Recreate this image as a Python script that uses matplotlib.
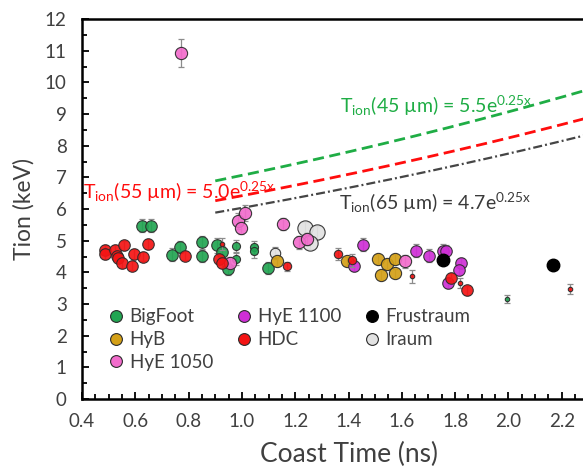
import numpy as np
import matplotlib
matplotlib.use("Agg")
import matplotlib.pyplot as plt
from matplotlib.lines import Line2D
from matplotlib.ticker import MultipleLocator, FormatStrFormatter

plt.rcParams['font.family'] = ['Lato', 'DejaVu Sans']
plt.rcParams['mathtext.fontset'] = 'custom'
plt.rcParams['mathtext.rm'] = 'Lato'
plt.rcParams['mathtext.it'] = 'Lato:italic'
plt.rcParams['mathtext.bf'] = 'Lato:bold'
plt.rcParams['lines.scale_dashes'] = False

# ---- campaign data: coast time (ns), ion temperature (keV), error (keV) ----
bigfoot_x = [0.626, 0.659, 0.737, 0.768, 0.849, 0.849, 0.905, 0.924, 0.947, 1.097]
bigfoot_y = [5.47, 5.47, 4.56, 4.80, 4.95, 4.52, 4.85, 4.64, 4.11, 4.14]
bigfoot_err = [0.2, 0.2, 0.2, 0.2, 0.2, 0.2, 0.25, 0.2, 0.2, 0.2]
bigfoot_mid_x = [0.977, 1.045, 1.045, 0.977]
bigfoot_mid_y = [4.82, 4.79, 4.66, 4.43]
bigfoot_mid_err = [0.2, 0.2, 0.2, 0.2]
bigfoot_tiny_x = [1.996]
bigfoot_tiny_y = [3.16]
bigfoot_tiny_err = [0.12]

iraum_x = [1.237, 1.281, 1.256]
iraum_y = [5.40, 5.26, 4.93]
iraum_err = [0.2, 0.2, 0.2]
iraum_mid_x = [1.124]
iraum_mid_y = [4.61]
iraum_mid_err = [0.2]

hyb_x = [1.133, 1.393, 1.512, 1.543, 1.574, 1.522, 1.574]
hyb_y = [4.35, 4.35, 4.42, 4.26, 4.42, 3.92, 3.97]
hyb_err = [0.15, 0.15, 0.15, 0.15, 0.15, 0.15, 0.15]

hye1050_x = [0.771, 0.984, 0.995, 1.012, 0.955, 1.214, 1.245, 1.153, 1.612]
hye1050_y = [10.92, 5.63, 5.40, 5.87, 4.29, 4.95, 5.05, 5.53, 4.35]
hye1050_err = [0.44, 0.25, 0.2, 0.25, 0.2, 0.2, 0.2, 0.2, 0.2]

hye1100_x = [1.456, 1.422, 1.653, 1.703, 1.753, 1.765, 1.822, 1.815, 1.775]
hye1100_y = [4.87, 4.19, 4.68, 4.53, 4.68, 4.66, 4.29, 4.06, 3.66]
hye1100_err = [0.2, 0.15, 0.2, 0.2, 0.2, 0.2, 0.15, 0.15, 0.15]

hdc_x = [0.486, 0.486, 0.524, 0.532, 0.536, 0.549, 0.558, 0.589, 0.596, 0.628,
         0.646, 0.786, 0.915, 0.926, 1.783, 1.843]
hdc_y = [4.72, 4.58, 4.72, 4.53, 4.45, 4.29, 4.85, 4.21, 4.58, 4.50,
         4.90, 4.53, 4.42, 4.29, 3.82, 3.43]
hdc_err = [0.15] * 16
hdc_mid_x = [1.359, 1.414, 1.168]
hdc_mid_y = [4.58, 4.38, 4.19]
hdc_mid_err = [0.2, 0.2, 0.15]
hdc_tiny_x = [0.924, 1.637, 1.818, 2.231]
hdc_tiny_y = [4.90, 3.87, 3.66, 3.48]
hdc_tiny_err = [0.2, 0.2, 0.15, 0.15]

frustraum_x = [1.753, 2.166]
frustraum_y = [4.40, 4.24]

# exponential scaling fits: T = a * exp(b * t)
fit_a_45 = 5.5
fit_a_55 = 5.0
fit_a_65 = 4.7
fit_b = 0.25
fit_start = 0.9

x_ticks = [0.4, 0.6, 0.8, 1.0, 1.2, 1.4, 1.6, 1.8, 2.0, 2.2]

c_green = '#22a552'
c_gold = '#d4a017'
c_pink = '#f26ccc'
c_magenta = '#cf2fd6'
c_red = '#f41414'
c_gray = '#e2e2e2'
c_black = '#000000'
edge = '#2b2b2b'
txt = '#404040'

fig = plt.figure(figsize=(5.83, 4.68), dpi=100)
# the plot area runs on past the right edge of the canvas (to 2.4 ns)
ax = fig.add_axes([0.1407, 0.1474, 0.9142, 0.8120])


def plot_group(x, y, err, color, size, z):
    ax.errorbar(x, y, yerr=err, fmt='none', ecolor='#8c8c8c', elinewidth=0.9,
                capsize=2.2, capthick=0.9, zorder=z - 0.5)
    ax.plot(x, y, 'o', ms=size, mfc=color, mec=edge, mew=0.8, alpha=0.92,
            linestyle='none', zorder=z)


plot_group(bigfoot_x, bigfoot_y, bigfoot_err, c_green, 8.3, 3)
plot_group(bigfoot_mid_x, bigfoot_mid_y, bigfoot_mid_err, c_green, 5.8, 3)
plot_group(bigfoot_tiny_x, bigfoot_tiny_y, bigfoot_tiny_err, c_green, 3.2, 3)
plot_group(iraum_x, iraum_y, iraum_err, c_gray, 11, 4)
plot_group(iraum_mid_x, iraum_mid_y, iraum_mid_err, c_gray, 7.5, 4)
plot_group(hyb_x, hyb_y, hyb_err, c_gold, 8.8, 5)
plot_group(hye1050_x, hye1050_y, hye1050_err, c_pink, 8.8, 6)
plot_group(hye1100_x, hye1100_y, hye1100_err, c_magenta, 8.3, 7)
plot_group(hdc_x, hdc_y, hdc_err, c_red, 8.3, 8)
plot_group(hdc_mid_x, hdc_mid_y, hdc_mid_err, c_red, 6.0, 8)
plot_group(hdc_tiny_x, hdc_tiny_y, hdc_tiny_err, c_red, 3.2, 8)
ax.plot(frustraum_x, frustraum_y, 'o', ms=9, mfc=c_black, mec=c_black,
        linestyle='none', zorder=9)

# fitted scaling curves
t = np.linspace(fit_start, 2.4, 200)
ax.plot(t, fit_a_45 * np.exp(fit_b * t), color='#1fad45', lw=2.0,
        dashes=(8, 4), zorder=2)
ax.plot(t, fit_a_55 * np.exp(fit_b * t), color='#ff0d0d', lw=2.0,
        dashes=(8, 4), zorder=2)
ax.plot(t, fit_a_65 * np.exp(fit_b * t), color='#454545', lw=1.6,
        dashes=(6.5, 2.2, 1.4, 2.2), zorder=2)

ax.text(1.368, 9.05, r'T$_{\rm ion}$(45 µm) = 5.5e$^{\rm 0.25x}$', color='#1fad45',
        fontsize=14, ha='left', va='baseline')
ax.text(0.404, 6.33, r'T$_{\rm ion}$(55 µm) = 5.0e$^{\rm 0.25x}$', color='#ff0d0d',
        fontsize=14, ha='left', va='baseline')
ax.text(1.364, 5.98, r'T$_{\rm ion}$(65 µm) = 4.7e$^{\rm 0.25x}$', color='#3a3a3a',
        fontsize=14, ha='left', va='baseline')

ax.set_xlim(0.4, 2.4)
ax.set_ylim(0, 12)
ax.set_xticks(x_ticks)
ax.xaxis.set_minor_locator(MultipleLocator(0.05))
ax.xaxis.set_major_formatter(FormatStrFormatter('%.1f'))
ax.yaxis.set_major_locator(MultipleLocator(1))
ax.yaxis.set_minor_locator(MultipleLocator(0.5))
ax.tick_params(axis='both', which='both', direction='in', color='black',
               labelcolor=txt, labelsize=13.5)
ax.tick_params(axis='both', which='major', length=5, width=1.3)
ax.tick_params(axis='both', which='minor', length=3.5, width=1.3)
ax.tick_params(axis='x', which='major', pad=10)
ax.tick_params(axis='y', which='major', pad=11)
for side in ('left', 'bottom', 'top', 'right'):
    ax.spines[side].set_linewidth(1.8)
    ax.spines[side].set_color('black')

ax.set_xlabel('Coast Time (ns)', fontsize=19, color=txt, labelpad=8.5)
ax.set_ylabel('Tion (keV)', fontsize=16.5, color=txt, labelpad=7)

legend_items = [
    ('BigFoot', c_green), ('HyB', c_gold), ('HyE 1050', c_pink),
    ('HyE 1100', c_magenta), ('HDC', c_red),
    ('Frustraum', c_black), ('Iraum', c_gray),
]
handles = [Line2D([], [], marker='o', ls='none', ms=8.5, mfc=c,
                  mec=(c if c == c_black else edge), mew=0.8)
           for _, c in legend_items]
ax.legend(handles, [n for n, _ in legend_items], ncol=3, frameon=False,
          loc='upper left', bbox_to_anchor=(0.0328, 0.263), fontsize=13.5,
          handlelength=0.8, handletextpad=0.3, columnspacing=1.28,
          labelspacing=0.3, labelcolor=txt, borderpad=0)

fig.savefig('out.png', dpi=100)
